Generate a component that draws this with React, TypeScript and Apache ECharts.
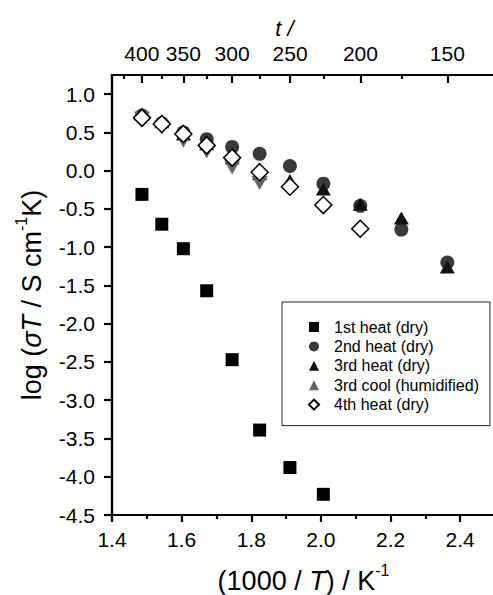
import React, { useEffect, useRef } from 'react';
import * as echarts from 'echarts';

// 1000/T positions (K^-1)
const xInvT = [1.486, 1.543, 1.605, 1.672, 1.745, 1.824, 1.911, 2.007, 2.113, 2.231, 2.363];
// log(sigma T) values
const heat1 = [-0.31, -0.70, -1.02, -1.57, -2.47, -3.39, -3.88, -4.23];
const heat2 = [0.72, 0.62, 0.50, 0.41, 0.31, 0.22, 0.06, -0.17, -0.46, -0.77, -1.20];
const heat3 = [0.74, 0.64, 0.48, 0.35, 0.17, -0.04, -0.13, -0.24, -0.44, -0.62, -1.26];
const cool3 = [0.68, 0.56, 0.39, 0.25, 0.04, -0.16];
const heat4 = [0.69, 0.61, 0.48, 0.33, 0.17, -0.02, -0.21, -0.45, -0.76];

const seriesNames = ['1st heat (dry)', '2nd heat (dry)', '3rd heat (dry)', '3rd cool (humidified)', '4th heat (dry)'];

const yTicks = [1.0, 0.5, 0.0, -0.5, -1.0, -1.5, -2.0, -2.5, -3.0, -3.5, -4.0, -4.5];
const xMajor = [1.4, 1.6, 1.8, 2.0, 2.2, 2.4];
const xMinor = [1.5, 1.7, 1.9, 2.1, 2.3];
const tMajor = [400, 350, 300, 250, 200, 150];
const tMinor = [425, 375, 325, 275, 225, 175];

const FONT = "'Liberation Sans', Arial, sans-serif";
const INK = '#000000';

const toInvT = (t: number) => 1000 / (t + 273.15);
const pair = (ys: number[]) => ys.map((y, i) => [xInvT[i], y]);

export default function App() {
  const ref = useRef<HTMLDivElement>(null);
  useEffect(() => {
    if (!ref.current) return;
    const chart = echarts.init(ref.current, undefined, { renderer: 'svg' });
    const ls = () => ({ color: INK, width: 2.2 });
    const baseX = () => ({
      type: 'value' as const,
      min: 1.4,
      max: 2.5,
      gridIndex: 0,
      splitLine: { show: false },
    });
    const tickOnlyX = (position: 'top' | 'bottom', values: number[], length: number, inside: boolean) => ({
      ...baseX(),
      position,
      axisLine: { show: false, onZero: false },
      axisTick: { show: true, customValues: values, length, inside, lineStyle: ls() },
      axisLabel: { show: false },
    });
    const titleRich = () => ({
      n: { fontSize: 27, fontFamily: FONT, color: '#000', lineHeight: 32, verticalAlign: 'bottom' },
      i: { fontSize: 27, fontFamily: FONT, color: '#000', fontStyle: 'italic', lineHeight: 32, verticalAlign: 'bottom' },
      s: { fontSize: 16, fontFamily: FONT, color: '#000', lineHeight: 16, verticalAlign: 'top' },
    });
    const tMajorPos = tMajor.map(toInvT);
    const tMinorPos = tMinor.map(toInvT);
    chart.setOption({
      animation: false,
      backgroundColor: '#fff',
      grid: {
        left: 112, top: 75, width: 383, height: 440, outerBoundsMode: 'none', containLabel: false,
        show: true, borderColor: INK, borderWidth: 2.2, backgroundColor: 'transparent',
      },
      legend: {
        orient: 'vertical',
        left: 282,
        top: 302,
        data: seriesNames,
        borderColor: '#222',
        borderWidth: 1,
        padding: [17, 11, 13, 26],
        itemWidth: 10,
        itemHeight: 10,
        itemGap: 3.4,
        selectedMode: false,
        textStyle: { fontSize: 16, fontFamily: FONT, color: '#000', padding: [0, 0, 0, 10] },
      },
      xAxis: [
        {
          ...baseX(),
          position: 'bottom',
          axisLine: { show: true, onZero: false, lineStyle: ls() },
          axisTick: { show: false },
          axisLabel: {
            customValues: xMajor,
            formatter: (v: number) => v.toFixed(1),
            fontSize: 21,
            fontFamily: FONT,
            color: '#000',
            margin: 14,
          },
          name: '{n|(1000 / }{i|T}{n|) / K}{s|-1}',
          nameLocation: 'middle',
          nameGap: 47,
          nameTextStyle: { rich: titleRich() },
        },
        tickOnlyX('bottom', xMajor, 7, false),
        tickOnlyX('bottom', xMinor, 4, false),
        {
          ...baseX(),
          position: 'top',
          axisLine: { show: true, onZero: false, lineStyle: ls() },
          axisTick: { show: false },
          axisLabel: {
            customValues: tMajorPos,
            formatter: (v: number) => String(Math.round(1000 / v - 273.15)),
            fontSize: 21,
            fontFamily: FONT,
            color: '#000',
            margin: 11,
          },
          name: 't /',
          nameLocation: 'middle',
          nameGap: 36,
          nameMoveOverlap: false,
          nameTextStyle: {
            fontSize: 22,
            fontStyle: 'italic',
            fontFamily: FONT,
            color: '#000',
            padding: [0, 38, 0, 0],
          },
        },
        tickOnlyX('top', tMajorPos, 8, true),
        tickOnlyX('top', tMinorPos, 4, true),
      ],
      yAxis: [
        {
          type: 'value',
          min: -4.5,
          max: 1.25,
          position: 'left',
          splitLine: { show: false },
          axisLine: { show: true, onZero: false, lineStyle: ls() },
          axisTick: { show: false },
          axisLabel: {
            customValues: yTicks,
            formatter: (v: number) => v.toFixed(1),
            fontSize: 21,
            fontFamily: FONT,
            color: '#000',
            margin: 17,
          },
          name: '{n|log (}{i|σT}{n| / S cm}{s|-1}{n|K)}',
          nameLocation: 'middle',
          nameGap: 67,
          nameMoveOverlap: false,
          nameTextStyle: { rich: titleRich() },
        },
        {
          type: 'value',
          min: -4.5,
          max: 1.25,
          position: 'left',
          splitLine: { show: false },
          axisLine: { show: false, onZero: false },
          axisTick: { show: true, customValues: yTicks, length: 8, lineStyle: ls() },
          axisLabel: { show: false },
        },
      ],
      series: [
        {
          name: seriesNames[0], type: 'scatter', data: pair(heat1),
          symbol: 'rect', symbolSize: 13, itemStyle: { color: '#000', opacity: 1 },
        },
        {
          name: seriesNames[1], type: 'scatter', data: pair(heat2),
          symbol: 'circle', symbolSize: 14, itemStyle: { color: '#3a3a3a', opacity: 1 },
        },
        {
          name: seriesNames[2], type: 'scatter', data: pair(heat3),
          symbol: 'triangle', symbolSize: [15, 13], itemStyle: { color: '#111', opacity: 1 },
        },
        {
          name: seriesNames[3], type: 'scatter', data: pair(cool3),
          symbol: 'triangle', symbolRotate: 180, symbolSize: [16, 14], itemStyle: { color: '#666', opacity: 1 },
        },
        {
          name: seriesNames[4], type: 'scatter', data: pair(heat4),
          symbol: 'diamond', symbolSize: 17,
          itemStyle: { color: '#fff', borderColor: '#000', borderWidth: 1.5, opacity: 1 },
        },
      ],
    });
    return () => chart.dispose();
  }, []);
  return <div ref={ref} style={{ position: 'fixed', left: 0, top: 0, width: 493, height: 595 }} />;
}
